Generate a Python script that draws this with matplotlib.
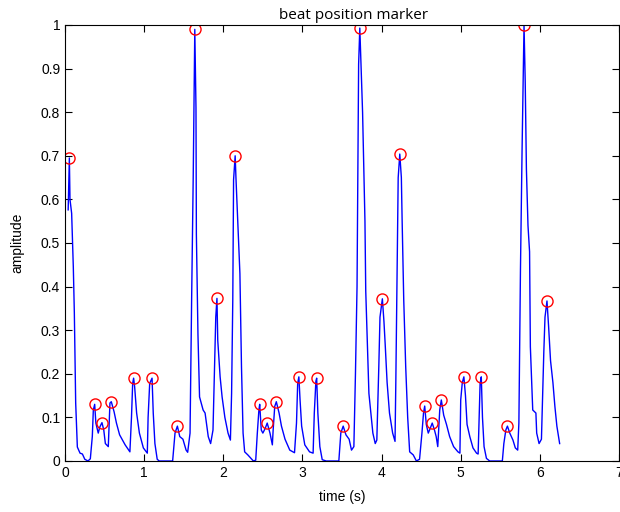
import matplotlib
matplotlib.use("Agg")
import matplotlib.pyplot as plt

# Traced signal (time in s, amplitude)
time_s = [
    0.04, 0.055, 0.063, 0.084, 0.105, 0.118, 0.135, 0.156, 0.19, 0.22, 0.25, 0.29, 0.32,
    0.345, 0.358, 0.375, 0.39, 0.42, 0.44, 0.467, 0.49, 0.51, 0.547, 0.568, 0.585,
    0.62, 0.65, 0.69, 0.76, 0.82, 0.84, 0.855, 0.867, 0.88, 0.905, 0.94, 0.99, 1.04,
    1.05, 1.07, 1.10, 1.115, 1.136, 1.165, 1.19, 1.36, 1.39, 1.42, 1.45, 1.49, 1.53,
    1.55, 1.58, 1.60, 1.62, 1.64, 1.655, 1.66, 1.68, 1.70, 1.745, 1.77, 1.81, 1.84,
    1.87, 1.89, 1.905, 1.92, 1.93, 1.96, 1.985, 2.02, 2.06, 2.09, 2.105, 2.12, 2.13,
    2.15, 2.16, 2.19, 2.21, 2.23, 2.25, 2.27, 2.31, 2.38, 2.41,
    2.43, 2.45, 2.46, 2.48, 2.50, 2.53, 2.555, 2.59, 2.62, 2.63, 2.65, 2.67, 2.705,
    2.735, 2.78, 2.84, 2.90, 2.925, 2.94, 2.955, 2.97, 2.99, 3.03, 3.09, 3.135, 3.15,
    3.17, 3.18, 3.195, 3.22, 3.25, 3.30, 3.46, 3.485, 3.515, 3.55, 3.59, 3.62, 3.65,
    3.67, 3.69, 3.71, 3.725, 3.74, 3.76, 3.775, 3.79, 3.80, 3.82, 3.84, 3.87, 3.89,
    3.92, 3.94, 3.965, 3.98, 4.01, 4.03, 4.045, 4.07, 4.10, 4.14, 4.17, 4.18, 4.195,
    4.21, 4.23, 4.25, 4.26, 4.28, 4.305, 4.33, 4.355, 4.40, 4.44, 4.48, 4.51, 4.53,
    4.545, 4.565, 4.59, 4.615, 4.64, 4.67, 4.69, 4.71, 4.735, 4.755, 4.785, 4.82,
    4.86, 4.91, 4.965, 4.99, 5.00, 5.02, 5.04, 5.06, 5.08, 5.115, 5.155, 5.20, 5.22,
    5.235, 5.245, 5.26, 5.275, 5.295, 5.325, 5.366, 5.526, 5.545, 5.57, 5.59, 5.62,
    5.66, 5.69, 5.72, 5.735, 5.755, 5.775, 5.79, 5.80, 5.815, 5.83, 5.85, 5.87, 5.88,
    5.91, 5.95, 5.96, 5.99, 6.02, 6.05, 6.065, 6.09, 6.11, 6.135, 6.165, 6.19, 6.215,
    6.25,
]
amplitude = [
    0.576, 0.695, 0.60, 0.568, 0.445, 0.34, 0.133, 0.032, 0.018, 0.016, 0.004, 0.0, 0.005,
    0.056, 0.117, 0.13, 0.087, 0.064, 0.078, 0.088, 0.071, 0.04, 0.033, 0.133, 0.136,
    0.113, 0.087, 0.06, 0.037, 0.021, 0.10, 0.178, 0.19, 0.17, 0.11, 0.064, 0.03, 0.018,
    0.10, 0.178, 0.19, 0.11, 0.04, 0.004, 0.0, 0.0, 0.064, 0.08, 0.056, 0.05, 0.025,
    0.02, 0.064, 0.37, 0.65, 0.99, 0.81, 0.52, 0.29, 0.147, 0.117, 0.11, 0.056, 0.04,
    0.071, 0.224, 0.33, 0.373, 0.277, 0.193, 0.147, 0.10, 0.064, 0.048, 0.155, 0.37, 0.645,
    0.70, 0.65, 0.52, 0.43, 0.216, 0.064, 0.021, 0.014, 0.0, 0.002,
    0.064, 0.117, 0.13, 0.071, 0.064, 0.075, 0.087, 0.064, 0.037, 0.071, 0.125, 0.136, 0.11,
    0.08, 0.05, 0.025, 0.019, 0.087, 0.178, 0.193, 0.14, 0.08, 0.037, 0.021, 0.018, 0.11,
    0.183, 0.19, 0.11, 0.033, 0.003, 0.0, 0.0, 0.064, 0.08, 0.06, 0.05, 0.025, 0.033,
    0.20, 0.40, 0.91, 0.993, 0.91, 0.80, 0.68, 0.55, 0.39, 0.27, 0.155, 0.10, 0.064,
    0.04, 0.048, 0.216, 0.33, 0.372, 0.32, 0.27, 0.18, 0.11, 0.064, 0.045, 0.18, 0.41,
    0.65, 0.704, 0.65, 0.55, 0.37, 0.216, 0.10, 0.021, 0.014, 0.0, 0.004, 0.064, 0.11,
    0.126, 0.084, 0.064, 0.075, 0.087, 0.07, 0.056, 0.033, 0.117, 0.14, 0.105, 0.084,
    0.056, 0.033, 0.021, 0.018, 0.14, 0.18, 0.193, 0.15, 0.084, 0.056, 0.03, 0.018, 0.016,
    0.117, 0.178, 0.193, 0.10, 0.033, 0.006, 0.0, 0.0, 0.04, 0.071, 0.08, 0.064,
    0.048, 0.03, 0.025, 0.087, 0.44, 0.71, 0.89, 1.0, 0.87, 0.67, 0.54, 0.48, 0.262,
    0.117, 0.11, 0.064, 0.04, 0.05, 0.25, 0.33, 0.367, 0.31, 0.23, 0.18, 0.125, 0.08,
    0.04,
]

# Detected beat positions (markers)
beat_time = [0.055, 0.375, 0.467, 0.585, 0.867, 1.10, 1.42, 1.64, 1.92, 2.15,
             2.46, 2.555, 2.67, 2.955, 3.18, 3.515, 3.725, 4.01, 4.23,
             4.545, 4.64, 4.755, 5.04, 5.26, 5.59, 5.80, 6.09]
beat_amp = [0.695, 0.13, 0.088, 0.136, 0.19, 0.19, 0.08, 0.99, 0.373, 0.70,
            0.13, 0.087, 0.136, 0.193, 0.19, 0.08, 0.993, 0.372, 0.704,
            0.126, 0.087, 0.14, 0.193, 0.193, 0.08, 1.0, 0.367]

x_ticks = [0, 1, 2, 3, 4, 5, 6, 7]
y_ticks = [0, 0.1, 0.2, 0.3, 0.4, 0.5, 0.6, 0.7, 0.8, 0.9, 1]
y_tick_labels = ["0", "0.1", "0.2", "0.3", "0.4", "0.5", "0.6", "0.7", "0.8", "0.9", "1"]

plt.rcParams['font.family'] = ['Liberation Sans', 'DejaVu Sans']

fig = plt.figure(figsize=(6.2, 5.12), dpi=100)
ax = fig.add_axes([65/620, 1 - 461/512, (619 - 65)/620, (461 - 25)/512])

ax.plot(time_s, amplitude, color='#0000ff', linewidth=1.0)
ax.plot(beat_time, beat_amp, linestyle='none', marker='o', markersize=8,
        markerfacecolor='none', markeredgecolor='#ff0000', markeredgewidth=1.0)

ax.set_xlim(0, 7)
ax.set_ylim(0, 1)
ax.set_xticks(x_ticks)
ax.set_xticklabels([str(v) for v in x_ticks])
ax.set_yticks(y_ticks)
ax.set_yticklabels(y_tick_labels)
ax.tick_params(direction='in', top=True, right=True, length=5, width=0.8,
               labelsize=10, colors='black')
for s in ax.spines.values():
    s.set_linewidth(0.8)

ax.set_xlabel('time (s)', fontsize=10, labelpad=7)
ax.set_ylabel('amplitude', fontsize=10, labelpad=12)
ax.set_title('beat position marker', fontsize=11, family=['Open Sans', 'DejaVu Sans'],
             pad=4, x=0.52)

fig.savefig('out.png', dpi=100)
